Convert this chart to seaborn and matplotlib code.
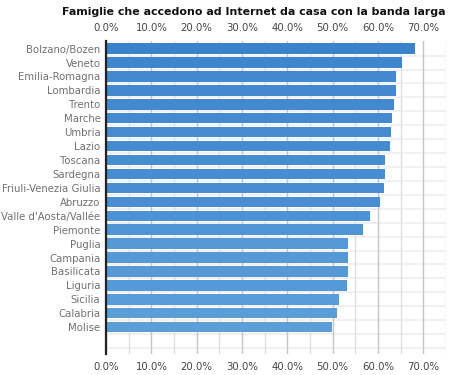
import matplotlib
matplotlib.use("Agg")
import matplotlib.pyplot as plt
import seaborn as sns
import pandas as pd
import numpy as np
from matplotlib.colors import LinearSegmentedColormap, Normalize
from matplotlib.ticker import MultipleLocator, FuncFormatter

regions = ["Bolzano/Bozen", "Veneto", "Emilia-Romagna", "Lombardia", "Trento",
           "Marche", "Umbria", "Lazio", "Toscana", "Sardegna",
           "Friuli-Venezia Giulia", "Abruzzo", "Valle d'Aosta/Vallée", "Piemonte",
           "Puglia", "Campania", "Basilicata", "Liguria", "Sicilia", "Calabria", "Molise"]
values = [68.2, 65.4, 64.0, 64.0, 63.5, 63.1, 62.8, 62.6, 61.5, 61.5,
          61.3, 60.4, 58.2, 56.6, 53.4, 53.4, 53.4, 53.1, 51.4, 50.9, 49.9]
title = "Famiglie che accedono ad Internet da casa con la banda larga"

df = pd.DataFrame({"regione": regions, "valore": values})

sns.set_theme(style="white")
plt.rcParams["font.family"] = ["DejaVu Sans"]

fig = plt.figure(figsize=(4.66, 3.75), dpi=100)
ax = fig.add_axes([0.2275, 0.056, 0.957 - 0.2275, 0.8907 - 0.056])

cmap = LinearSegmentedColormap.from_list("b", ["#5b9fda", "#3b82cc"])
norm = Normalize(vmin=min(values), vmax=max(values))
palette = [cmap(norm(v)) for v in values]

sns.barplot(data=df, x="valore", y="regione", hue="regione", palette=palette,
            legend=False, width=0.75, ax=ax, saturation=1, zorder=3,
            edgecolor="none", linewidth=0)

ax.set_xlim(0, 75)
ax.set_ylim(21.93, -0.55)

# faint row separators
for i in range(22):
    ax.axhline(i + 0.5, color="#f1f1f1", lw=1.5, zorder=1)

ax.xaxis.set_major_locator(MultipleLocator(10))
ax.xaxis.set_minor_locator(MultipleLocator(5))
ax.xaxis.set_major_formatter(FuncFormatter(lambda v, p: f"{v:.1f}%" if v <= 70 else ""))
ax.grid(axis="x", which="major", color="#c4c4c4", lw=1, zorder=2)
ax.grid(axis="x", which="minor", color="#e0e0e0", lw=1, zorder=2)
ax.set_axisbelow(False)
ax.tick_params(axis="x", which="both", length=0, labeltop=True, labelbottom=True,
               labelsize=7.3, colors="#444444", pad=6)
ax.tick_params(axis="y", length=0, labelsize=7.3, colors="#707070", pad=4)
ax.set_xlabel("")
ax.set_ylabel("")

for s in ["top", "right", "bottom"]:
    ax.spines[s].set_visible(False)
ax.spines["left"].set_color("#222222")
ax.spines["left"].set_linewidth(1.6)
ax.spines["left"].set_zorder(5)

fig.text(0.545, 0.968, title, ha="center", va="center", fontsize=7.9,
         fontweight="bold", color="#111111")

fig.savefig("out.png", dpi=100)
